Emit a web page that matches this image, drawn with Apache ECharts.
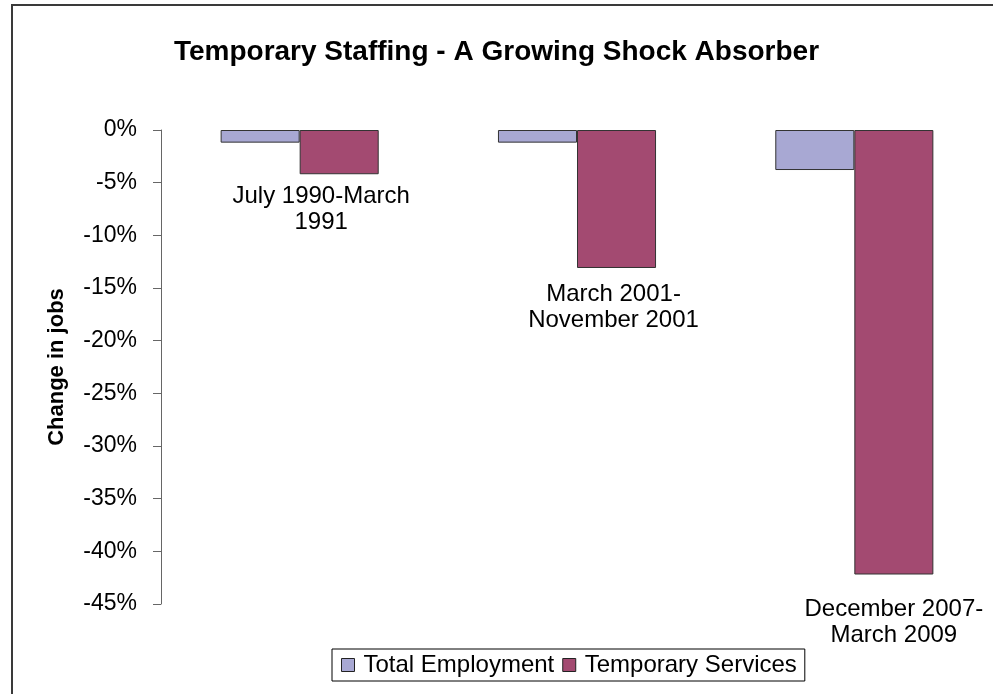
<!DOCTYPE html>
<html>
<head>
<meta charset="utf-8">
<script src="https://cdn.jsdelivr.net/npm/echarts@6/dist/echarts.min.js"></script>
<style>
  html, body { margin: 0; padding: 0; background: #fff; }
  #chart { width: 993px; height: 694px; }
</style>
</head>
<body>
<div id="chart"></div>
<script>
  // recession periods
  const periods = ['July 1990-March\n1991', 'March 2001-\nNovember 2001', 'December 2007-\nMarch 2009'];
  // change in jobs, %
  const totalEmployment = [-1.2, -1.2, -3.8];
  const temporaryServices = [-4.2, -13.1, -42.2];
  const seriesNames = ['Total Employment', 'Temporary Services'];

  const font = "'Liberation Sans', Arial, sans-serif";
  const colors = ['#A8A8D3', '#A34A71'];

  // label offsets per period (Excel nudged the first one left)
  const labelOffsets = [[-18, 3], [-3, 7], [0, 16]];

  const chart = echarts.init(document.getElementById('chart'));
  const option = {
    animation: false,
    color: colors,
    textStyle: { fontFamily: font },
    title: {
      text: 'Temporary Staffing - A Growing Shock Absorber',
      left: 'center',
      top: 33,
      textStyle: { fontFamily: font, fontSize: 28, fontWeight: 'bold', color: '#000' }
    },
    graphic: [{
      type: 'rect',
      shape: { x: 12, y: 5, width: 1000, height: 720 },
      style: { fill: 'none', stroke: '#3a3a3a', lineWidth: 2 },
      silent: true
    }],
    legend: {
      data: seriesNames,
      icon: 'rect',
      bottom: 13,
      left: 332,
      itemWidth: 13,
      itemHeight: 13,
      itemGap: 8,
      padding: [4, 8, 4, 9],
      borderColor: '#000',
      borderWidth: 1,
      itemStyle: { borderColor: '#222', borderWidth: 1 },
      textStyle: { fontFamily: font, fontSize: 24, color: '#000', padding: [0, 0, 0, 4] }
    },
    grid: { left: 161, right: 0, top: 130, bottom: 90, containLabel: false },
    xAxis: {
      type: 'category',
      data: periods,
      position: 'top',
      axisLine: { show: false },
      axisTick: { show: false },
      axisLabel: { show: false }
    },
    yAxis: {
      type: 'value',
      min: -45,
      max: 0,
      interval: 5,
      name: 'Change in jobs',
      nameLocation: 'middle',
      nameGap: 93,
      nameTextStyle: { fontFamily: font, fontSize: 22, fontWeight: 'bold', color: '#000' },
      axisLine: { show: true, lineStyle: { color: '#666', width: 1 } },
      axisTick: { show: true, length: 8, lineStyle: { color: '#666' } },
      axisLabel: { formatter: '{value}%', fontFamily: font, fontSize: 23, color: '#000', margin: 24 },
      splitLine: { show: false }
    },
    series: [
      {
        name: seriesNames[0],
        type: 'bar',
        data: totalEmployment,
        barGap: '0%',
        barCategoryGap: '43%',
        itemStyle: { borderColor: '#333', borderWidth: 1 }
      },
      {
        name: seriesNames[1],
        type: 'bar',
        data: temporaryServices.map((v, i) => ({
          value: v,
          label: { offset: labelOffsets[i] }
        })),
        itemStyle: { borderColor: '#333', borderWidth: 1 },
        label: {
          show: true,
          position: 'bottom',
          distance: 6,
          formatter: p => periods[p.dataIndex],
          fontFamily: font,
          fontSize: 24,
          lineHeight: 26,
          color: '#000',
          align: 'center'
        }
      }
    ]
  };
  chart.setOption(option);
</script>
</body>
</html>
